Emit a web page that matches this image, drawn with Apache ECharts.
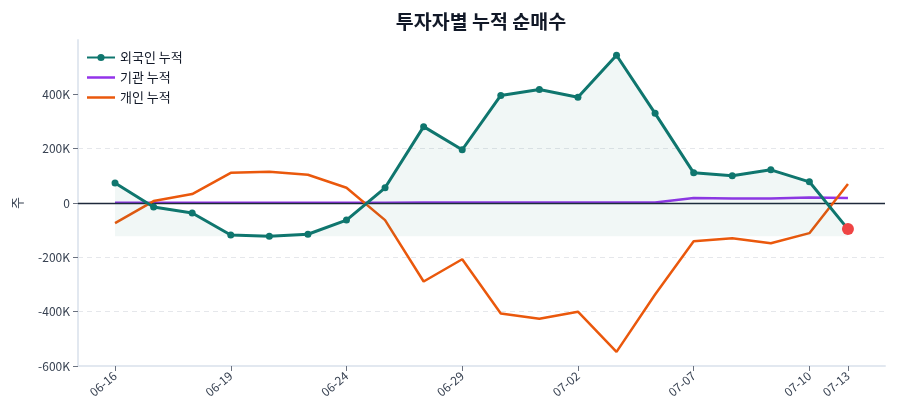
<!DOCTYPE html>
<html>
<head>
<meta charset="utf-8">
<script src="https://cdn.jsdelivr.net/npm/echarts@6/dist/echarts.min.js"></script>
<style>
  html, body { margin: 0; padding: 0; background: #fff; }
  #chart { width: 900px; height: 420px; }
</style>
</head>
<body>
<div id="chart"></div>
<script>
const dates = [
  "06-16", "06-17", "06-18", "06-19", "06-20", "06-23", "06-24", "06-25", "06-26", "06-29",
  "06-30", "07-01", "07-02", "07-03", "07-04", "07-07", "07-08", "07-09", "07-10", "07-13",
];
const foreignCum = [
  74000, -15000, -37000, -118000, -122000, -115000, -63000, 56000, 281000, 196000,
  396000, 418000, 389000, 544000, 330000, 111000, 100000, 122000, 78000, -96000,
];
const instCum = [
  1000, 1000, 1000, 1000, 1000, 1000, 1000, 1000, 1500, 1500,
  1500, 1500, 2000, 1500, 1500, 18000, 17000, 17000, 20000, 18000,
];
const indivCum = [
  -74000, 7000, 33000, 111000, 115000, 104000, 56000, -63000, -289000, -207000,
  -407000, -426000, -400000, -548000, -337000, -141000, -130000, -148000, -111000, 70000,
];
const labelIdx = [0, 3, 6, 9, 12, 15, 18, 19];
const yTicks = [-600000, -400000, -200000, 0, 200000, 400000];

const FONT = "'Noto Sans CJK KR', 'Noto Sans', sans-serif";
const TEXT = "#374151";
const LINE_ICON = "path://M0,0H28V2.5H0Z";

const toPairs = (arr) => arr.map((v, i) => [i, v]);
const lastIdx = foreignCum.length - 1;

const foreignData = toPairs(foreignCum).map((p, i) =>
  i === lastIdx
    ? { value: p, symbolSize: 12, itemStyle: { color: "#ef4444" } }
    : p
);

const chart = echarts.init(document.getElementById("chart"), null, { renderer: "canvas" });

chart.setOption({
  animation: false,
  textStyle: { fontFamily: FONT },
  title: {
    text: "투자자별 누적 순매수",
    left: 476,
    top: 7,
    textAlign: "center",
    textStyle: { fontFamily: FONT, fontSize: 19.5, fontWeight: "bold", color: "#111827" },
  },
  legend: {
    orient: "vertical",
    left: 81,
    top: 46,
    itemWidth: 28,
    itemHeight: 9,
    itemGap: 7,
    textStyle: { fontFamily: FONT, fontSize: 13, color: "#111827" },
    data: [
      { name: "외국인 누적" },
      { name: "기관 누적", icon: LINE_ICON },
      { name: "개인 누적", icon: LINE_ICON },
    ],
  },
  grid: { left: 78, right: 15, top: 40, bottom: 54 },
  xAxis: {
    type: "value",
    min: -0.96,
    max: 19.96,
    axisLine: { onZero: false, lineStyle: { color: "#e2e8f0", width: 2 } },
    axisTick: {
      customValues: labelIdx,
      length: 5,
      lineStyle: { color: "#6b7280" },
    },
    axisLabel: {
      customValues: labelIdx,
      rotate: 40,
      fontSize: 12,
      color: TEXT,
      fontFamily: FONT,
      formatter: (v) => dates[Math.round(v)] ?? "",
    },
    splitLine: { show: false },
  },
  yAxis: {
    type: "value",
    min: -600000,
    max: 600000,
    interval: 200000,
    name: "주",
    nameLocation: "middle",
    nameGap: 54,
    nameTextStyle: { fontFamily: FONT, fontSize: 13, color: TEXT },
    axisLine: { show: true, onZero: false, lineStyle: { color: "#e2e8f0", width: 2 } },
    axisTick: {
      show: true,
      customValues: yTicks,
      length: 5,
      lineStyle: { color: "#6b7280" },
    },
    axisLabel: {
      customValues: yTicks,
      fontSize: 12,
      color: TEXT,
      fontFamily: FONT,
      formatter: (v) => (v === 0 ? "0" : v / 1000 + "K"),
    },
    splitLine: {
      show: true,
      showMaxLine: false,
      lineStyle: { color: "#e5e7eb", type: [5, 4] },
    },
  },
  series: [
    {
      name: "외국인 누적",
      type: "line",
      data: foreignData,
      color: "#0f766e",
      symbol: "circle",
      symbolSize: 7,
      lineStyle: { width: 3 },
      areaStyle: { color: "rgba(15,118,110,0.085)", origin: Math.min(...foreignCum) },
      z: 3,
    },
    {
      name: "기관 누적",
      type: "line",
      data: toPairs(instCum),
      color: "#9333ea",
      symbol: "none",
      lineStyle: { width: 2.5 },
      z: 1,
    },
    {
      name: "개인 누적",
      type: "line",
      data: toPairs(indivCum),
      color: "#ea580c",
      symbol: "none",
      lineStyle: { width: 2.5 },
      z: 2,
      markLine: {
        silent: true,
        z: 2,
        symbol: "none",
        label: { show: false },
        lineStyle: { color: "#1e293b", width: 1.4, type: "solid" },
        data: [{ yAxis: 0 }],
      },
    },
  ],
});
</script>
</body>
</html>
